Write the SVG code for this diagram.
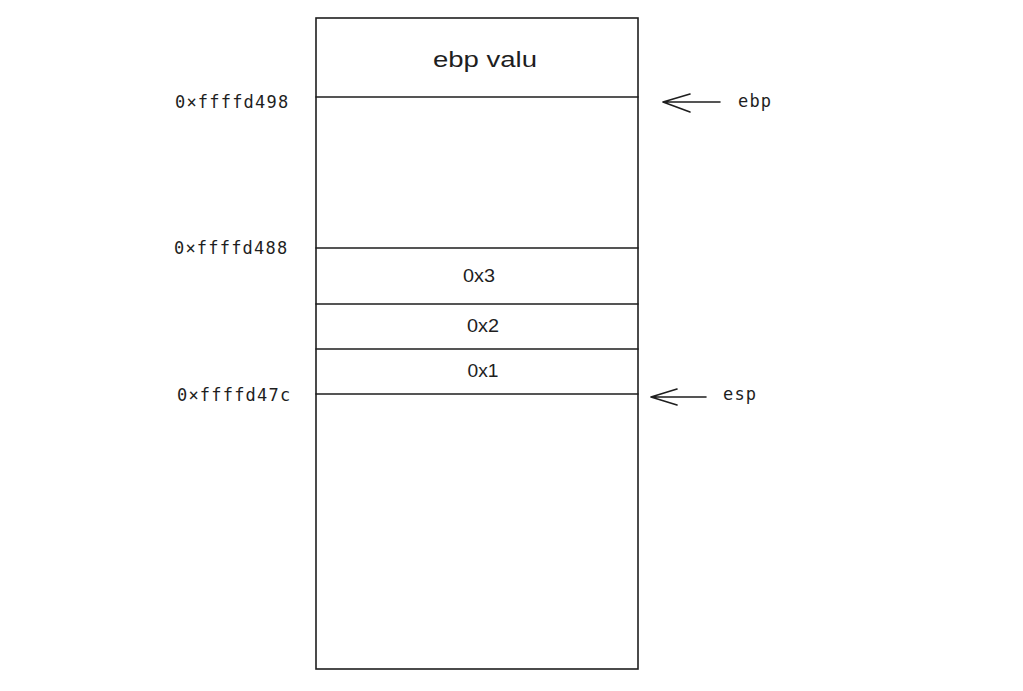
<svg xmlns="http://www.w3.org/2000/svg" width="1023" height="691" viewBox="0 0 1023 691">
<style>
.ln{stroke:#1e1e1e;stroke-width:1.6;fill:none;stroke-linecap:round}
.mono{font-family:"DejaVu Sans Mono",monospace;font-size:17px;fill:#1e1e1e;letter-spacing:1.2px}
.cell{font-family:"Liberation Sans",Arial,sans-serif;fill:#1e1e1e;text-anchor:middle}
</style>
<rect width="1023" height="691" fill="#fff"/>
<g id="stack">
<rect x="316" y="18" width="322" height="651" class="ln"/>
<line x1="316" y1="97" x2="638" y2="97" class="ln"/>
<line x1="316" y1="248" x2="638" y2="248" class="ln"/>
<line x1="316" y1="304" x2="638" y2="304" class="ln"/>
<line x1="316" y1="349" x2="638" y2="349" class="ln"/>
<line x1="316" y1="394" x2="638" y2="394" class="ln"/>
<text x="485" y="67" class="cell" font-size="22.5" textLength="104" lengthAdjust="spacingAndGlyphs">ebp valu</text>
<text x="479" y="282" class="cell" font-size="18.5" textLength="32" lengthAdjust="spacingAndGlyphs">0x3</text>
<text x="483" y="332" class="cell" font-size="18.5" textLength="32" lengthAdjust="spacingAndGlyphs">0x2</text>
<text x="483" y="377" class="cell" font-size="18.5" textLength="31" lengthAdjust="spacingAndGlyphs">0x1</text>
</g>
<g id="addresses">
<text x="175" y="108" class="mono">0×ffffd498</text>
<text x="174" y="254" class="mono">0×ffffd488</text>
<text x="177" y="401" class="mono">0×ffffd47c</text>
</g>
<g id="pointers">
<text x="738" y="107" class="mono">ebp</text>
<text x="723" y="400" class="mono">esp</text>
</g>
<g id="connectors">
<path d="M720 102 L663 102 M663 102 L690 94 M663 102 L690 112" class="ln"/>
<path d="M706 397 L651 397 M651 397 L677 389 M651 397 L677 405" class="ln"/>
</g>
</svg>
